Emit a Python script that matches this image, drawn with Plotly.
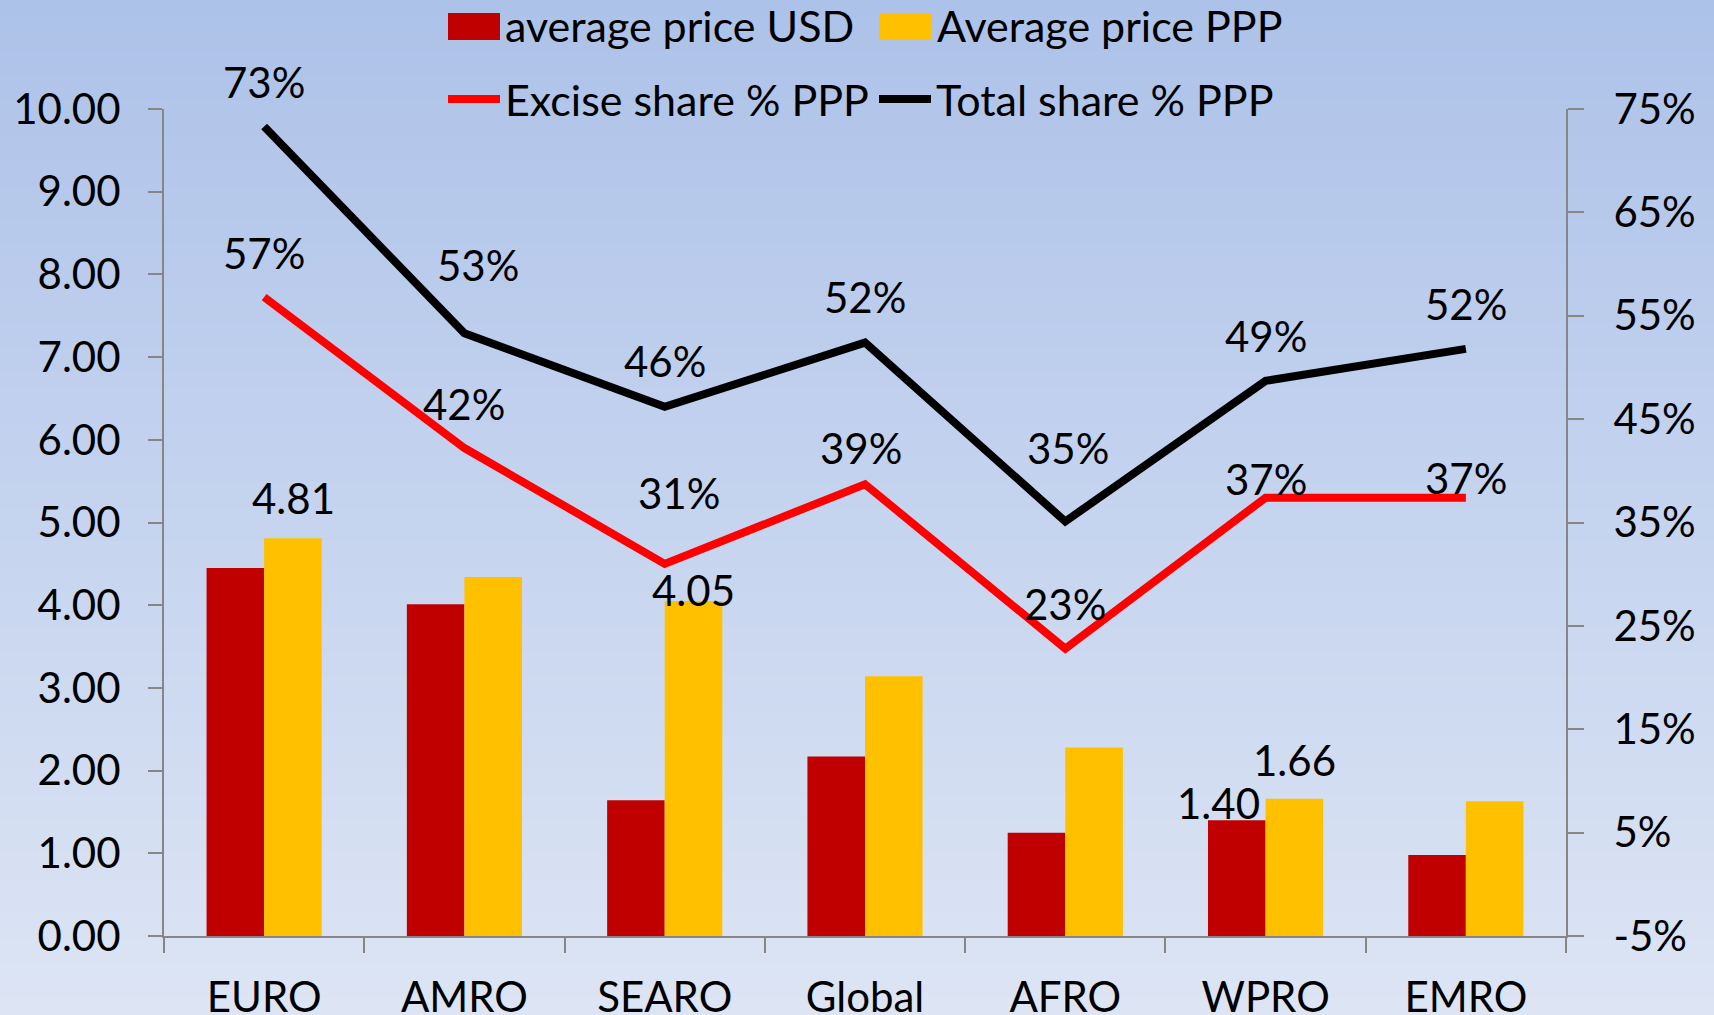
import plotly.graph_objects as go

# ---------------- data ----------------
categories = ["EURO", "AMRO", "SEARO", "Global", "AFRO", "WPRO", "EMRO"]
avg_price_usd = [4.45, 4.01, 1.64, 2.17, 1.25, 1.40, 0.98]
avg_price_ppp = [4.81, 4.34, 4.05, 3.14, 2.28, 1.66, 1.63]
excise_share_ppp = [0.568, 0.422, 0.310, 0.387, 0.228, 0.374, 0.374]
total_share_ppp = [0.733, 0.533, 0.462, 0.524, 0.351, 0.487, 0.518]
left_ticks = [0, 1, 2, 3, 4, 5, 6, 7, 8, 9, 10]
right_ticks = [-0.05, 0.05, 0.15, 0.25, 0.35, 0.45, 0.55, 0.65, 0.75]

# which bars carry a data label
usd_labelled = ["WPRO"]
ppp_labelled = ["EURO", "SEARO", "WPRO"]

# ---------------- styling ----------------
W, H = 1714, 1015
L, R, T, B = 164, 148, 109, 79
FONT = "Lato, 'Open Sans', sans-serif"
FS = 42
LEG_FS = 43
AXC = "#868686"
RED_BAR = "#C00000"
YEL_BAR = "#FFC000"
RED_LINE = "#FF0000"
BLK_LINE = "#000000"
LW = 8

fig = go.Figure()

fig.add_trace(go.Bar(x=categories, y=avg_price_usd, name="average price USD",
                     marker=dict(color=RED_BAR, line=dict(width=0)), legend="legend"))
fig.add_trace(go.Bar(x=categories, y=avg_price_ppp, name="Average price PPP",
                     marker=dict(color=YEL_BAR, line=dict(width=0)), legend="legend2"))
fig.add_trace(go.Scatter(x=categories, y=excise_share_ppp, name="Excise share % PPP",
                         mode="lines", line=dict(color=RED_LINE, width=LW),
                         yaxis="y2", legend="legend3"))
fig.add_trace(go.Scatter(x=categories, y=total_share_ppp, name="Total share % PPP",
                         mode="lines", line=dict(color=BLK_LINE, width=LW),
                         yaxis="y2", legend="legend4"))

# ---------------- data labels ----------------
ann = []
tot_shift = [(0, 45), (14, 68), (0, 46), (0, 46), (3, 73), (0, 45), (0, 45)]
exc_shift = [(0, 44), (0, 44), (14, 71), (-4, 36), (0, 45), (0, 19), (0, 20)]
for c, v, s in zip(categories, total_share_ppp, tot_shift):
    ann.append(dict(x=c, y=v, xref="x", yref="y2", text=f"{v*100:.0f}%", showarrow=False,
                    xshift=s[0], yshift=s[1], yanchor="middle"))
for c, v, s in zip(categories, excise_share_ppp, exc_shift):
    ann.append(dict(x=c, y=v, xref="x", yref="y2", text=f"{v*100:.0f}%", showarrow=False,
                    xshift=s[0], yshift=s[1], yanchor="middle"))
ppp_shift = {"EURO": (29, 40), "SEARO": (29, 11), "WPRO": (29, 39)}
usd_shift = {"WPRO": (-47, 17)}
for c, v in zip(categories, avg_price_ppp):
    if c in ppp_labelled:
        s = ppp_shift[c]
        ann.append(dict(x=c, y=v, xref="x", yref="y", text=f"{v:.2f}", showarrow=False,
                        xshift=s[0], yshift=s[1], yanchor="middle"))
for c, v in zip(categories, avg_price_usd):
    if c in usd_labelled:
        s = usd_shift[c]
        ann.append(dict(x=c, y=v, xref="x", yref="y", text=f"{v:.2f}", showarrow=False,
                        xshift=s[0], yshift=s[1], yanchor="middle"))

# ---------------- gradient background ----------------
pw, ph = W - L - R, H - T - B
top_c = (173, 194, 233)
bot_c = (221, 229, 244)
n = 120
y_bot = -B / ph
y_top = 1 + T / ph
shapes = []
for i in range(n):
    f = i / (n - 1)
    col = tuple(round(bot_c[k] + (top_c[k] - bot_c[k]) * f) for k in range(3))
    y0 = y_bot + (y_top - y_bot) * i / n
    y1 = y_bot + (y_top - y_bot) * (i + 1) / n + 0.002
    shapes.append(dict(type="rect", xref="paper", yref="paper", x0=-0.2, x1=1.2,
                       y0=y0, y1=y1, fillcolor=f"rgb{col}", line=dict(width=0),
                       layer="below"))


def px_x(p):
    return (p - L) / pw


def px_y(p):
    return (H - B - p) / ph


# larger legend swatches for the bar series (drawn under the native legend symbols)
for (x0, x1), col in [((448, 500), RED_BAR), ((879, 931), YEL_BAR)]:
    shapes.append(dict(type="rect", xref="paper", yref="paper", x0=px_x(x0), x1=px_x(x1),
                       y0=px_y(40), y1=px_y(13), fillcolor=col, line=dict(width=0),
                       layer="above"))

leg_common = dict(orientation="h", bgcolor="rgba(0,0,0,0)", borderwidth=0,
                  font=dict(family=FONT, size=LEG_FS, color="black"), itemwidth=52,
                  xanchor="left", yanchor="middle")

fig.update_layout(
    width=W, height=H,
    margin=dict(l=L, r=R, t=T, b=B, autoexpand=False),
    paper_bgcolor="rgb(200,212,236)",
    plot_bgcolor="rgba(0,0,0,0)",
    font=dict(family=FONT, size=FS, color="black"),
    barmode="group", bargap=0.425, bargroupgap=0,
    showlegend=True,
    legend=dict(x=px_x(443), y=px_y(25), **leg_common),
    legend2=dict(x=px_x(875), y=px_y(25), **leg_common),
    legend3=dict(x=px_x(443), y=px_y(99), **leg_common),
    legend4=dict(x=px_x(874), y=px_y(99), **leg_common),
    xaxis=dict(type="category", range=[-0.5, 6.5], showline=True, linecolor=AXC, linewidth=2,
               ticks="outside", tickson="boundaries", ticklen=15, tickcolor=AXC, tickwidth=2,
               showgrid=False, zeroline=False, automargin=False, ticklabelstandoff=24,
               tickfont=dict(family=FONT, size=FS, color="black")),
    yaxis=dict(range=[0, 10], tickvals=left_ticks, ticktext=[f"{v:.2f}" for v in left_ticks],
               showline=True, linecolor=AXC, linewidth=2, ticks="outside", ticklen=14,
               tickcolor=AXC, tickwidth=2, showgrid=False, zeroline=False, automargin=False,
               ticklabelstandoff=19, tickfont=dict(family=FONT, size=FS, color="black")),
    yaxis2=dict(range=[-0.05, 0.75], overlaying="y", side="right", tickvals=right_ticks,
                ticktext=[f"{round(v*100)}%" for v in right_ticks],
                showline=True, linecolor=AXC, linewidth=2, ticks="outside", ticklen=16,
                tickcolor=AXC, tickwidth=2, showgrid=False, zeroline=False, automargin=False,
                ticklabelstandoff=21, tickfont=dict(family=FONT, size=FS, color="black")),
    annotations=ann,
    shapes=shapes,
)

fig.write_html("out.html", config={"displayModeBar": False},
               post_script="document.body.style.margin='0';document.body.style.overflow='hidden';")
